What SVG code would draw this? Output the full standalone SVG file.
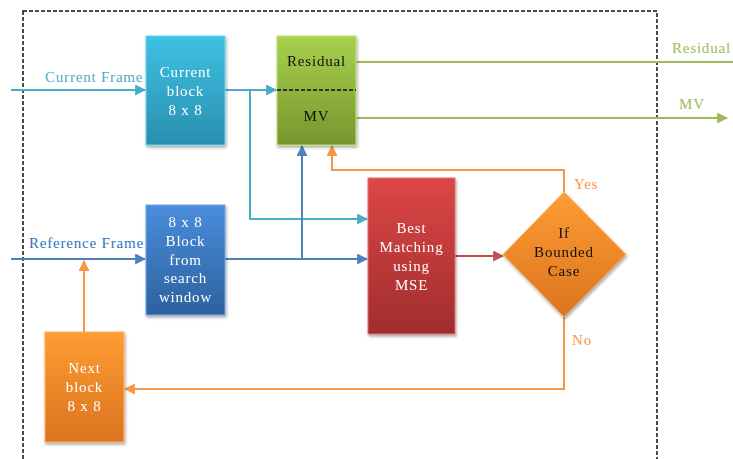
<svg xmlns="http://www.w3.org/2000/svg" width="733" height="459" viewBox="0 0 733 459">
<style>
text{font-family:"Liberation Serif","Times New Roman",serif;font-size:15px;text-anchor:middle;letter-spacing:0.8px}
.w{fill:#fff}
.k{fill:#111}
.c{stroke:#4BACC6;stroke-width:2;fill:none}
.b{stroke:#4F81BD;stroke-width:2;fill:none}
.o{stroke:#F79646;stroke-width:2;fill:none}
.g{stroke:#9BBB59;stroke-width:2;fill:none}
.r{stroke:#C0504D;stroke-width:2;fill:none}
.lbl{text-anchor:start}
</style>
<defs>
<linearGradient id="gc" x1="0" y1="0" x2="0" y2="1"><stop offset="0" stop-color="#3EC1E3"/><stop offset="1" stop-color="#2A8FAF"/></linearGradient>
<linearGradient id="gb" x1="0" y1="0" x2="0" y2="1"><stop offset="0" stop-color="#4A8DDB"/><stop offset="1" stop-color="#2D619E"/></linearGradient>
<linearGradient id="gg" x1="0" y1="0" x2="0" y2="1"><stop offset="0" stop-color="#A8D14E"/><stop offset="1" stop-color="#76962E"/></linearGradient>
<linearGradient id="gr" x1="0" y1="0" x2="0" y2="1"><stop offset="0" stop-color="#DD4646"/><stop offset="1" stop-color="#A02D2D"/></linearGradient>
<linearGradient id="go" x1="0" y1="0" x2="0" y2="1"><stop offset="0" stop-color="#FF9C33"/><stop offset="1" stop-color="#DA7420"/></linearGradient>
<filter id="sh" x="-10%" y="-10%" width="130%" height="130%"><feDropShadow dx="1" dy="2" stdDeviation="1.5" flood-color="#000" flood-opacity="0.35"/></filter>
<marker id="mc" viewBox="0 0 10 10" refX="9" refY="5" markerWidth="5.5" markerHeight="5.5" orient="auto" markerUnits="strokeWidth"><path d="M0,0L10,5L0,10z" fill="#4BACC6"/></marker>
<marker id="mb" viewBox="0 0 10 10" refX="9" refY="5" markerWidth="5.5" markerHeight="5.5" orient="auto" markerUnits="strokeWidth"><path d="M0,0L10,5L0,10z" fill="#4F81BD"/></marker>
<marker id="mo" viewBox="0 0 10 10" refX="9" refY="5" markerWidth="5.5" markerHeight="5.5" orient="auto" markerUnits="strokeWidth"><path d="M0,0L10,5L0,10z" fill="#F79646"/></marker>
<marker id="mg" viewBox="0 0 10 10" refX="9" refY="5" markerWidth="5.5" markerHeight="5.5" orient="auto" markerUnits="strokeWidth"><path d="M0,0L10,5L0,10z" fill="#9BBB59"/></marker>
<marker id="mr" viewBox="0 0 10 10" refX="9" refY="5" markerWidth="5.5" markerHeight="5.5" orient="auto" markerUnits="strokeWidth"><path d="M0,0L10,5L0,10z" fill="#C0504D"/></marker>
</defs>
<rect width="733" height="459" fill="#fff"/>
<rect id="frame" x="23" y="11" width="634" height="460" fill="none" stroke="#111" stroke-width="1.5" stroke-dasharray="4,2"/>

<g id="connectors">
<path class="c" d="M11,90H145" marker-end="url(#mc)"/>
<path class="c" d="M225,90H276" marker-end="url(#mc)"/>
<path class="c" d="M250,90V219H367" marker-end="url(#mc)"/>
<path class="b" d="M11,259H145" marker-end="url(#mb)"/>
<path class="b" d="M225,259H367" marker-end="url(#mb)"/>
<path class="b" d="M302,259V146" marker-end="url(#mb)"/>
<path class="o" d="M564,193V170H332V146" marker-end="url(#mo)"/>
<path class="o" d="M564,317V389H125" marker-end="url(#mo)"/>
<path class="o" d="M84,332V261" marker-end="url(#mo)"/>
<path class="r" d="M455,256H503" marker-end="url(#mr)"/>
<path class="g" d="M356,62H733"/>
<path class="g" d="M356,118H727" marker-end="url(#mg)"/>
<text class="lbl" x="45" y="82" fill="#4BACC6">Current Frame</text>
<text class="lbl" x="29" y="248" fill="#2E75C0">Reference Frame</text>
<text class="lbl" x="672" y="53" fill="#9BBB59">Residual</text>
<text class="lbl" x="679" y="109" fill="#9BBB59">MV</text>
<text class="lbl" x="574" y="189" fill="#F79646">Yes</text>
<text class="lbl" x="572" y="345" fill="#F79646">No</text>
</g>

<g id="current-block" filter="url(#sh)">
<rect x="146" y="36" width="79" height="109" fill="url(#gc)" stroke="#6FD3EE" stroke-width="1"/>
<text class="w" x="185.5" y="77">Current</text>
<text class="w" x="185.5" y="96">block</text>
<text class="w" x="185.5" y="115">8 x 8</text>
</g>

<g id="residual-mv" filter="url(#sh)">
<rect x="277" y="36" width="79" height="109" fill="url(#gg)" stroke="#BFE07A" stroke-width="1"/>
<path d="M277,90H356" stroke="#111" stroke-width="1.5" stroke-dasharray="4,2"/>
<text class="k" x="316.5" y="66">Residual</text>
<text class="k" x="316.5" y="121">MV</text>
</g>

<g id="search-block" filter="url(#sh)">
<rect x="146" y="205" width="79" height="110" fill="url(#gb)" stroke="#6EA6E6" stroke-width="1"/>
<text class="w" x="185.5" y="227">8 x 8</text>
<text class="w" x="185.5" y="246">Block</text>
<text class="w" x="185.5" y="265">from</text>
<text class="w" x="185.5" y="283">search</text>
<text class="w" x="185.5" y="302">window</text>
</g>

<g id="best-matching" filter="url(#sh)">
<rect x="368" y="178" width="87" height="156" fill="url(#gr)" stroke="#E87070" stroke-width="1"/>
<text class="w" x="411.5" y="233">Best</text>
<text class="w" x="411.5" y="252">Matching</text>
<text class="w" x="411.5" y="271">using</text>
<text class="w" x="411.5" y="290">MSE</text>
</g>

<g id="bounded" filter="url(#sh)">
<path d="M564,192L626,254.5L564,317L503,254.5Z" fill="url(#go)" stroke="#FFB060" stroke-width="1"/>
<text class="k" x="564" y="238">If</text>
<text class="k" x="564" y="257">Bounded</text>
<text class="k" x="564" y="276">Case</text>
</g>

<g id="next-block" filter="url(#sh)">
<rect x="45" y="332" width="79" height="110" fill="url(#go)" stroke="#FFB060" stroke-width="1"/>
<text class="w" x="84.5" y="373">Next</text>
<text class="w" x="84.5" y="392">block</text>
<text class="w" x="84.5" y="411">8 x 8</text>
</g>
</svg>
